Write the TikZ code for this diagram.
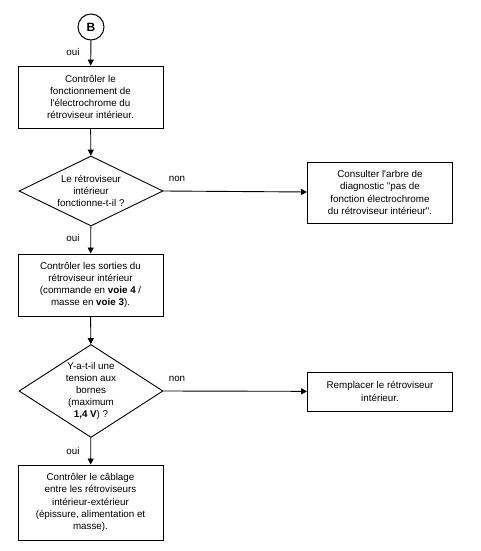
\documentclass[tikz,border=0pt]{standalone}
\usepackage{fontspec}
\newfontfamily\af{Liberation Sans}
\usetikzlibrary{shapes.geometric,arrows.meta}
\begin{document}
\begin{tikzpicture}[x=1pt,y=-1pt,
  every node/.style={font=\af\fontsize{9.8}{12.2}\selectfont},
  stepbox/.style={draw,line width=0.9pt,minimum width=145pt,inner sep=0pt,align=center},
  diam/.style={draw,diamond,line width=0.9pt,inner sep=0pt,minimum width=144pt},
  txt/.style={align=center,inner sep=0pt},
  lbl/.style={inner sep=0pt},
  conn/.style={line width=0.9pt,-{Triangle[length=6pt,width=6pt]}}]
\useasboundingbox (0,0) rectangle (481,551);
\node[draw,circle,line width=1pt,minimum size=26pt,inner sep=0pt,font=\af\bfseries\fontsize{12}{14}\selectfont] (B) at (91,27) {B};
\node[stepbox,minimum height=62pt] (b1) at (90.5,97) {Contrôler le\\fonctionnement de\\l'électrochrome du\\rétroviseur intérieur.};
\node[diam,minimum height=70pt] (d1) at (91,191) {};
\node[txt] (t1) at (91,191) {Le rétroviseur\\intérieur\\fonctionne-t-il ?};
\node[stepbox,minimum height=61pt] (r1) at (380,192.5) {Consulter l'arbre de\\diagnostic "pas de\\fonction électrochrome\\du rétroviseur intérieur".};
\node[stepbox,minimum height=62pt] (b2) at (90.5,285) {Contrôler les sorties du\\rétroviseur intérieur\\(commande en \textbf{voie 4} /\\masse en \textbf{voie 3}).};
\node[diam,minimum height=93pt] (d2) at (91,391) {};
\node[txt] (t2) at (91,391) {Y-a-t-il une\\tension aux\\bornes\\(maximum\\\textbf{1,4 V}) ?};
\node[stepbox,minimum height=39pt] (r2) at (380,391.5) {Remplacer le rétroviseur\\intérieur.};
\node[stepbox,minimum height=75pt] (b3) at (90.5,502.5) {Contrôler le câblage\\entre les rétroviseurs\\intérieur-extérieur\\(épissure, alimentation et\\masse).};
\draw[conn] (B) -- (b1);
\draw[conn] (b1) -- (d1);
\draw[conn] (d1) -- (b2);
\draw[conn] (d1.east) -- (r1);
\draw[conn] (b2) -- (d2);
\draw[conn] (d2) -- (b3);
\draw[conn] (d2.east) -- (r2);
\node[lbl] (o1) at (73,52) {oui};
\node[lbl] (o2) at (73,238) {oui};
\node[lbl] (o3) at (73,451) {oui};
\node[lbl] (n1) at (177,179) {non};
\node[lbl] (n2) at (177,379) {non};
\end{tikzpicture}
\end{document}
